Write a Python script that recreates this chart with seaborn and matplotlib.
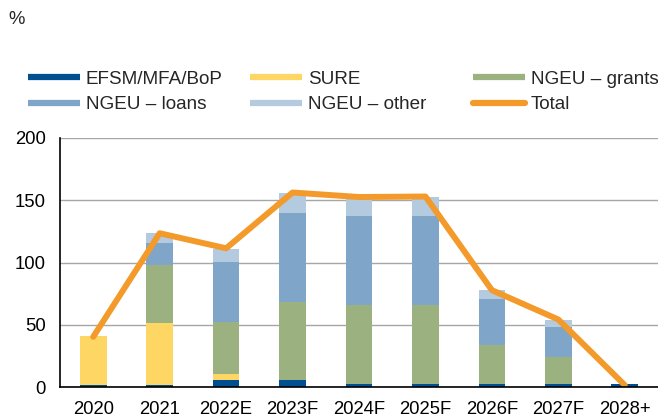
import numpy as np
import pandas as pd
import matplotlib
matplotlib.use("Agg")
import matplotlib.pyplot as plt
from matplotlib.lines import Line2D
import seaborn as sns

# Datos
years = ['2020', '2021', '2022E', '2023F', '2024F', '2025F', '2026F', '2027F', '2028+']
efsm = [1.5, 1.5, 5.6, 5.6, 2.5, 2.5, 2.5, 2.5, 2.7]
sure = [39.5, 50.0, 5.0, 0.0, 0.0, 0.0, 0.0, 0.0, 0.0]
grants = [0.0, 46.5, 42.0, 63.0, 63.0, 63.0, 31.5, 21.4, 0.0]
loans = [0.0, 18.0, 47.8, 71.5, 71.5, 71.5, 36.3, 24.4, 0.0]
other = [0.0, 7.5, 10.4, 16.0, 14.5, 15.7, 7.5, 5.4, 0.0]
total = [40.3, 123.5, 111.4, 156.2, 152.6, 153.0, 77.8, 54.2, 1.5]

labels = ['EFSM/MFA/BoP', 'SURE', 'NGEU – grants', 'NGEU – loans', 'NGEU – other']
colors = ['#004f91', '#fdd663', '#9bb180', '#7fa6c8', '#b3cadf']
orange = '#f39a2b'

sns.set_theme(style='white')
plt.rcParams['font.family'] = ['Liberation Sans', 'DejaVu Sans']

series = [efsm, sure, grants, loans, other]
cum = np.cumsum(np.array(series), axis=0)

fig = plt.figure(figsize=(6.58, 4.20), dpi=100)
ax = fig.add_axes([60 / 658, 1 - 387 / 420, 598 / 658, 249 / 420])

# barras apiladas: se dibuja de la capa superior a la inferior
for i in range(len(series) - 1, -1, -1):
    df = pd.DataFrame({'year': years, 'val': cum[i]})
    sns.barplot(data=df, x='year', y='val', order=years, color=colors[i],
                width=0.4, saturation=1, edgecolor='none', ax=ax, zorder=2)

sns.lineplot(x=years, y=total, sort=False, color=orange, lw=4.3,
             solid_capstyle='round', ax=ax, zorder=3)

ax.set_ylim(0, 200)
ax.set_xlim(-0.5, len(years) - 0.5)
ax.set_yticks([0, 50, 100, 150, 200])
ax.yaxis.grid(True, color='#a6a6a6', lw=1)
ax.set_axisbelow(True)
for s in ['top', 'right']:
    ax.spines[s].set_visible(False)
for s in ['left', 'bottom']:
    ax.spines[s].set_color('black')
    ax.spines[s].set_linewidth(1.2)
ax.spines['bottom'].set_zorder(4)
ax.set_xlabel('')
ax.set_ylabel('')
ax.tick_params(axis='both', length=0, labelsize=13.3, colors='black')
ax.tick_params(axis='x', pad=10)
ax.tick_params(axis='y', pad=10)

fig.text(8 / 658, 1 - 20 / 420, '%', fontsize=13.3, va='center', ha='left')

# leyenda en tres columnas
def handle(c, cap='butt'):
    return Line2D([0], [0], color=c, lw=4.5, solid_capstyle=cap)

cols = [
    (28, [handle(colors[0]), handle(colors[3])], [labels[0], labels[3]]),
    (250, [handle(colors[1]), handle(colors[4])], [labels[1], labels[4]]),
    (473, [handle(colors[2]), handle(orange, 'round')], [labels[2], 'Total']),
]
for x0, hs, ls in cols:
    leg = fig.legend(hs, ls, loc='center left', bbox_to_anchor=(x0 / 658, 1 - 92 / 420),
                     frameon=False, fontsize=13.6, handlelength=2.75, handletextpad=0.32,
                     borderpad=0, borderaxespad=0, labelspacing=0.45)

fig.savefig('out.png', dpi=100)
